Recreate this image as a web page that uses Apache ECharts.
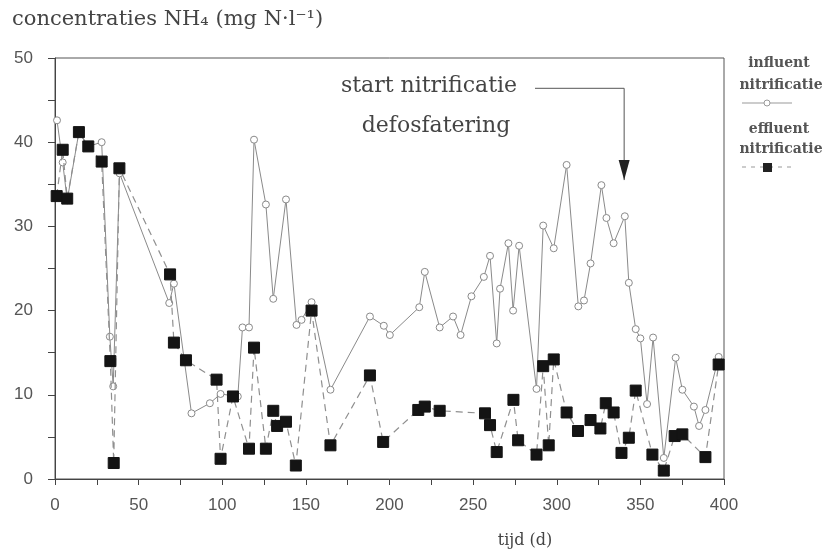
<!DOCTYPE html>
<html>
<head>
<meta charset="utf-8">
<script src="https://cdn.jsdelivr.net/npm/echarts@6/dist/echarts.min.js"></script>
<style>html,body{margin:0;padding:0;background:#fff}#c{width:829px;height:552px}</style>
</head>
<body>
<div id="c"></div>
<script>
// ---- data (days, mg N/l) ----
const influentDays = [1.2,4.6,7.3,14.3,19.9,27.9,32.8,34.8,38.6,68.3,71.1,81.6,92.6,99.0,109.3,112.1,116.0,119.0,126.1,130.5,138.1,144.4,147.4,153.4,164.7,188.3,196.6,200.2,217.8,221.1,230.0,238.0,242.5,249.0,256.4,260.1,264.1,266.1,271.1,273.9,277.5,287.9,291.9,298.2,305.9,312.9,316.3,320.2,326.7,329.7,334.0,340.7,343.1,347.2,350.0,354.0,357.6,364.0,371.1,375.1,382.0,385.1,388.9,396.8];
const influentValues = [42.6,37.6,33.1,41.2,39.5,40.0,16.9,11.0,36.3,20.9,23.2,7.8,9.0,10.1,9.8,18.0,18.0,40.3,32.6,21.4,33.2,18.3,18.9,21.0,10.6,19.3,18.2,17.1,20.4,24.6,18.0,19.3,17.1,21.7,24.0,26.5,16.1,22.6,28.0,20.0,27.7,10.7,30.1,27.4,37.3,20.5,21.2,25.6,34.9,31.0,28.0,31.2,23.3,17.8,16.7,8.9,16.8,2.5,14.4,10.6,8.6,6.3,8.2,14.5];
const effluentDays = [1.0,4.6,7.3,14.3,19.9,27.9,33.1,35.1,38.5,68.8,71.1,78.3,96.6,99.0,106.4,116.0,119.0,126.1,130.5,132.8,138.1,144.0,153.4,164.7,188.3,196.2,217.2,221.1,230.0,257.1,260.1,264.1,274.1,276.9,287.9,291.9,295.2,298.2,305.9,312.7,320.2,326.1,329.3,334.0,338.7,343.1,347.2,357.2,364.0,370.5,375.1,388.9,396.8];
const effluentValues = [33.6,39.1,33.3,41.2,39.5,37.7,14.0,1.9,36.9,24.3,16.2,14.1,11.8,2.4,9.8,3.6,15.6,3.6,8.1,6.3,6.8,1.6,20.0,4.0,12.3,4.4,8.2,8.6,8.1,7.8,6.4,3.2,9.4,4.6,2.9,13.4,4.0,14.2,7.9,5.7,7.0,6.0,9.0,7.9,3.1,4.9,10.5,2.9,1.0,5.1,5.3,2.6,13.6];
const arrowDays = [287, 340.3, 340.3];
const arrowValues = [46.4, 46.4, 35.5];
const xTicks = {min: 0, max: 400, step: 25, labelStep: 50};
const yTicks = {min: 0, max: 50, step: 5, labelStep: 10};
const seriesNames = ['influent nitrificatie', 'effluent nitrificatie'];
const titleText = 'concentraties NH\u2084 (mg N\u00b7l\u207b\u00b9)';
const xName = 'tijd (d)';
const annot1 = 'start nitrificatie';
const annot2 = 'defosfatering';

const zip = (a, b) => a.map((v, i) => [v, b[i]]);
const serif = '"DejaVu Serif"';
const sans = '"Liberation Sans", Arial, sans-serif';
const chart = echarts.init(document.getElementById('c'), null, {renderer: 'canvas'});

chart.setOption({
  animation: false,
  backgroundColor: '#ffffff',
  grid: {left: 55, right: 105, top: 58, bottom: 73, show: true, borderColor: '#555', borderWidth: 1, backgroundColor: 'transparent'},
  xAxis: {
    type: 'value', min: xTicks.min, max: xTicks.max, interval: xTicks.step,
    axisLine: {show: true, lineStyle: {color: '#444', width: 1}},
    axisTick: {show: true, length: 6, lineStyle: {color: '#444'}},
    axisLabel: {margin: 18, fontSize: 17, color: '#555', fontFamily: sans,
      formatter: v => (v % xTicks.labelStep === 0 ? String(v) : '')},
    splitLine: {show: false}
  },
  yAxis: {
    type: 'value', min: yTicks.min, max: yTicks.max, interval: yTicks.step,
    axisLine: {show: true, lineStyle: {color: '#444', width: 1}},
    axisTick: {show: true, length: 7, lineStyle: {color: '#444'}},
    axisLabel: {margin: 22, fontSize: 17, color: '#555', fontFamily: sans,
      formatter: v => (v % yTicks.labelStep === 0 ? String(v) : '')},
    splitLine: {show: false}
  },
  series: [
    {
      name: seriesNames[0], type: 'line', data: zip(influentDays, influentValues),
      symbol: 'circle', symbolSize: 7, showAllSymbol: true,
      lineStyle: {color: '#8a8a8a', width: 1},
      itemStyle: {color: '#ffffff', borderColor: '#8a8a8a', borderWidth: 1},
      z: 3
    },
    {
      name: seriesNames[1], type: 'line', data: zip(effluentDays, effluentValues),
      symbol: 'rect', symbolSize: 11, showAllSymbol: true,
      lineStyle: {color: '#8f8f8f', width: 1.2, type: [7, 5]},
      itemStyle: {color: '#141414', borderColor: '#141414'},
      z: 4
    },
    {
      name: 'arrow', type: 'line', data: zip(arrowDays, arrowValues),
      symbol: (v, p) => (p.dataIndex === arrowDays.length - 1 ? 'triangle' : 'none'),
      symbolSize: [11, 20], symbolRotate: 180, symbolOffset: [0, -10], showAllSymbol: true,
      lineStyle: {color: '#555', width: 1},
      itemStyle: {color: '#222'},
      silent: true, z: 5
    }
  ],
  graphic: [
    {type: 'text', x: 12, y: 20, style: {text: titleText, font: '21px ' + serif, fill: '#444', textVerticalAlign: 'middle'}},
    {type: 'text', x: 525, y: 541, style: {text: xName, font: '16px ' + serif, fill: '#444', textAlign: 'center', textVerticalAlign: 'middle'}},
    {type: 'text', x: 429, y: 86, style: {text: annot1, font: '22px ' + serif, fill: '#444', textAlign: 'center', textVerticalAlign: 'middle'}},
    {type: 'text', x: 436, y: 126, style: {text: annot2, font: '22px ' + serif, fill: '#444', textAlign: 'center', textVerticalAlign: 'middle'}},
    {type: 'text', x: 779, y: 63, style: {text: 'influent', font: 'bold 14px ' + serif, fill: '#555', textAlign: 'center', textVerticalAlign: 'middle'}},
    {type: 'text', x: 781, y: 85, style: {text: 'nitrificatie', font: 'bold 14px ' + serif, fill: '#555', textAlign: 'center', textVerticalAlign: 'middle'}},
    {type: 'line', shape: {x1: 742, y1: 103, x2: 792, y2: 103}, style: {stroke: '#999', lineWidth: 1}},
    {type: 'circle', shape: {cx: 767, cy: 103, r: 3}, style: {fill: '#fff', stroke: '#999', lineWidth: 1}},
    {type: 'text', x: 779, y: 129, style: {text: 'effluent', font: 'bold 14px ' + serif, fill: '#555', textAlign: 'center', textVerticalAlign: 'middle'}},
    {type: 'text', x: 781, y: 149, style: {text: 'nitrificatie', font: 'bold 14px ' + serif, fill: '#555', textAlign: 'center', textVerticalAlign: 'middle'}},
    {type: 'line', shape: {x1: 742, y1: 167, x2: 794, y2: 167}, style: {stroke: '#999', lineWidth: 1, lineDash: [4, 5]}},
    {type: 'rect', shape: {x: 763, y: 163, width: 9, height: 9}, style: {fill: '#222'}}
  ]
});
</script>
</body>
</html>
